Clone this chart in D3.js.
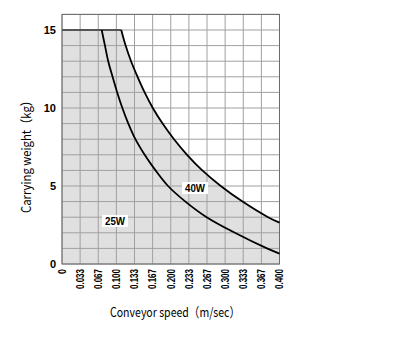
<!DOCTYPE html>
<html><head><meta charset="utf-8">
<script src="https://cdn.jsdelivr.net/npm/d3@7"></script>
<style>body{margin:0;background:#fff}svg{display:block}</style>
</head><body>
<script>
const xTickLabels = ["0","0.033","0.067","0.100","0.133","0.167","0.200","0.233","0.267","0.300","0.333","0.367","0.400"];
const yTickValues = [0,5,10,15];
const speed25 = [0, 0.073, 0.079, 0.085, 0.093, 0.1015, 0.111, 0.122, 0.135, 0.152, 0.172, 0.195, 0.227, 0.266, 0.318, 0.377, 0.400];
const weight25 = [15, 15, 14, 13, 12, 11, 10, 9, 8, 7, 6, 5, 4, 3, 2, 1, 0.67];
const speed40 = [0, 0.109, 0.117, 0.127, 0.139, 0.152, 0.167, 0.185, 0.206, 0.230, 0.258, 0.292, 0.332, 0.379, 0.400];
const weight40 = [15, 15, 14, 13, 12, 11, 10, 9, 8, 7, 6, 5, 4, 3, 2.65];
const seriesLabels = ["25W","40W"];
const labelSpeed = [0.0975, 0.2446];
const labelWeight = [2.76, 4.87];

const W = 400, H = 338;
const svg = d3.select("body").append("svg").attr("width", W).attr("height", H);
const x = d3.scaleLinear().domain([0, 0.4]).range([62, 279.5]);
const y = d3.scaleLinear().domain([0, 16]).range([264, 14.4]);

const pts25 = speed25.map((s,i)=>[s, weight25[i]]);
const pts40 = speed40.map((s,i)=>[s, weight40[i]]);
const curve = d3.curveCatmullRom.alpha(0.5);

const lineGen = d3.line().x(d=>x(d[0])).y(d=>y(d[1])).curve(curve);
const p40 = lineGen(pts40.slice(1));
svg.append("path")
  .attr("d", `M${x(0)},${y(0)}L${x(0)},${y(15)}L` + p40.slice(1) + `L${x(0.4)},${y(0)}Z`)
  .attr("fill", "#e0e0e0");

// grid
const xGrid = d3.range(0, 13).map(i => i * 0.4 / 12);
const yGrid = d3.range(0, 17);
svg.append("g").selectAll("line").data(xGrid).join("line")
  .attr("x1", d=>x(d)).attr("x2", d=>x(d)).attr("y1", y(0)).attr("y2", y(16))
  .attr("stroke", "#a0a0a0").attr("stroke-width", 1);
svg.append("g").selectAll("line").data(yGrid).join("line")
  .attr("x1", x(0)).attr("x2", x(0.4)).attr("y1", d=>y(d)).attr("y2", d=>y(d))
  .attr("stroke", "#a0a0a0").attr("stroke-width", 1);

// frame
svg.append("rect").attr("x", x(0)).attr("y", y(16)).attr("width", x(0.4)-x(0)).attr("height", y(0)-y(16))
  .attr("fill", "none").attr("stroke", "#6a6a6a").attr("stroke-width", 1);

// flat top segment
svg.append("line").attr("x1", x(0)).attr("x2", x(speed40[1])).attr("y1", y(15)).attr("y2", y(15))
  .attr("stroke", "#555").attr("stroke-width", 1.8);

// curves
svg.append("path").datum(pts25.slice(1)).attr("d", lineGen).attr("fill","none").attr("stroke","#000").attr("stroke-width",1.8);
svg.append("path").datum(pts40.slice(1)).attr("d", lineGen).attr("fill","none").attr("stroke","#000").attr("stroke-width",1.8);

// series labels
seriesLabels.forEach((t,i)=>{
  const g = svg.append("g").attr("transform", `translate(${x(labelSpeed[i])},${y(labelWeight[i])})`);
  g.append("rect").attr("x", -13).attr("y", -6).attr("width", 26).attr("height", 12).attr("fill", "#fff");
  g.append("text").attr("text-anchor","middle").attr("dy","0.36em")
    .attr("font-family","Liberation Sans, Arial, sans-serif").attr("font-weight","bold").attr("font-size",11)
    .attr("textLength", 20).attr("lengthAdjust","spacingAndGlyphs").text(t);
});

// y tick labels
svg.append("g").selectAll("text").data(yTickValues).join("text")
  .attr("x", 56).attr("y", d=>y(d)).attr("dy","0.36em").attr("text-anchor","end")
  .attr("font-family","Liberation Sans, Arial, sans-serif").attr("font-weight","bold").attr("font-size",11)
  .text(d=>d);

// x tick labels
svg.append("g").selectAll("text").data(xTickLabels).join("text")
  .attr("transform", (d,i)=>`translate(${x(xGrid[i])},269) rotate(-90)`)
  .attr("dy","0.36em").attr("text-anchor","end")
  .attr("font-family","Liberation Sans, Arial, sans-serif").attr("font-weight","bold").attr("font-size",10.5)
  .attr("textLength", d=>d.length===1?5:20).attr("lengthAdjust","spacingAndGlyphs")
  .text(d=>d);

// axis titles
svg.append("text").attr("x", 175).attr("y", 312).attr("dy","0.36em").attr("text-anchor","middle")
  .attr("font-family","Noto Sans CJK JP, sans-serif").attr("font-size",13)
  .attr("textLength",130).attr("lengthAdjust","spacingAndGlyphs").text("Conveyor speed（m/sec）");
svg.append("text").attr("transform","translate(26,154) rotate(-90)").attr("dy","0.36em").attr("text-anchor","middle")
  .attr("font-family","Noto Sans CJK JP, sans-serif").attr("font-size",13)
  .attr("textLength",118).attr("lengthAdjust","spacingAndGlyphs").text("Carrying weight（kg）");
</script>
</body></html>
